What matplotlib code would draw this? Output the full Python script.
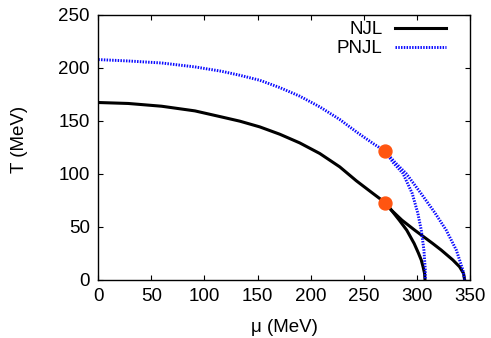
import matplotlib
matplotlib.use("Agg")
import matplotlib.pyplot as plt

plt.rcParams['font.family'] = ['Liberation Sans', 'DejaVu Sans']

# crossover lines (mu, T) in MeV
njl_mu = [0, 28.2, 59.6, 91, 116, 133.3, 152.1, 170.9, 189.7, 208.6, 227.4, 243.1, 258.7, 270.4]
njl_T = [167.0, 166.1, 163.5, 159.1, 153.4, 149.4, 144.0, 137.1, 128.9, 118.9, 106.3, 93.1, 81.2, 72.4]
pnjl_mu = [0, 28.2, 59.6, 91, 116, 133.3, 152.1, 170.9, 189.7, 208.6, 227.4, 243.1, 258.7, 269.8]
pnjl_T = [207.5, 206.2, 204.3, 200.6, 196.5, 192.7, 188.0, 181.1, 173.0, 162.9, 151.0, 139.3, 128.4, 121.2]

# first order branches
njl_in_mu = [270.4, 276, 283.5, 290.5, 297.5, 301.5, 304.2, 305.9, 307.3, 307.7]
njl_in_T = [72.4, 65.5, 56, 46.6, 34, 25, 18.4, 12, 5.8, 0]
njl_out_mu = [270.4, 276, 286, 298, 315, 323, 334, 340.3, 344, 345]
njl_out_T = [72.4, 65.5, 56, 46.6, 34, 27.8, 18.4, 12, 5.8, 0]
pnjl_in_mu = [269.8, 278, 287, 295.7, 301, 304.2, 306.7, 308, 308]
pnjl_in_T = [121.2, 110, 100, 81.2, 62.4, 46.6, 27.8, 9, 0]
pnjl_out_mu = [269.8, 280, 290, 304, 317, 327.7, 337.2, 343.4, 345]
pnjl_out_T = [121.2, 110, 100, 81.2, 63, 46.6, 27.8, 9, 0]

# critical end points
cep_mu = [270.4, 269.8]
cep_T = [72.4, 121.2]

fig = plt.figure(figsize=(4.91, 3.38), dpi=100)
ax = fig.add_axes([0.2002, 0.173, 0.7568, 0.784])

blue = '#0a0aff'
dots = (0, (0.5, 0.45))
ax.plot(njl_mu, njl_T, color='black', lw=2.2, label='NJL')
ax.plot(pnjl_mu, pnjl_T, color=blue, lw=2.1, linestyle=dots, label='PNJL')
ax.plot(njl_in_mu, njl_in_T, color='black', lw=2.2)
ax.plot(njl_out_mu, njl_out_T, color='black', lw=2.2)
ax.plot(pnjl_in_mu, pnjl_in_T, color=blue, lw=2.1, linestyle=dots)
ax.plot(pnjl_out_mu, pnjl_out_T, color=blue, lw=2.1, linestyle=dots)
ax.plot(cep_mu, cep_T, 'o', color='#ff5511', ms=9.3, zorder=5)

ax.set_xlim(0, 350)
ax.set_ylim(0, 250)
ax.set_xticks(range(0, 351, 50))
ax.set_yticks(range(0, 251, 50))
ax.tick_params(direction='in', top=True, right=True, length=3.5, width=0.8,
               labelsize=13.5, pad=6)
for s in ax.spines.values():
    s.set_linewidth(1.0)
ax.set_xlabel('μ (MeV)', fontsize=13.5)
ax.set_ylabel('T (MeV)', fontsize=13.5)
ax.xaxis.set_label_coords(0.5, -0.15)
ax.yaxis.set_label_coords(-0.19, 0.53)

ax.legend(loc='upper right', frameon=False, markerfirst=False, fontsize=13.5,
          handlelength=2.7, handletextpad=0.7, labelspacing=0.1,
          borderaxespad=0, borderpad=0, bbox_to_anchor=(0.936, 0.975))

fig.savefig('out.png', dpi=100)
